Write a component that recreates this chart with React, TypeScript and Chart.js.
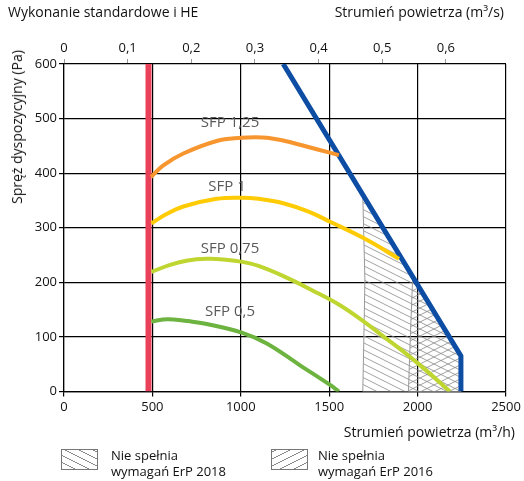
import React, { useEffect, useRef } from "react";
import { Chart, registerables } from "chart.js";
Chart.register(...registerables);

const FONT = "'Open Sans', 'Noto Sans', sans-serif";

// axis ticks
const xTicks = [0, 500, 1000, 1500, 2000, 2500];
const yTicks = [0, 100, 200, 300, 400, 500, 600];
const topTicks = [0, 0.1, 0.2, 0.3, 0.4, 0.5, 0.6];

// red minimum line
const redX = [478, 478];
const redY = [0, 600];
// blue maximum line
const blueX = [1240, 2245, 2245];
const blueY = [600, 65, 0];

// SFP curves
const sfp125X = [492, 560, 675, 864, 1005, 1080, 1147, 1250, 1335, 1440, 1555];
const sfp125Y = [393, 414, 436, 459, 465, 466, 465, 459, 452, 443, 433];
const sfp1X = [494, 580, 675, 864, 1005, 1100, 1240, 1380, 1505, 1712, 1895];
const sfp1Y = [308, 325, 339, 353, 355, 353, 345, 330, 311, 278, 243];
const sfp075X = [494, 600, 700, 807, 900, 1000, 1100, 1250, 1400, 1561, 1700, 1806, 1920, 2040, 2183];
const sfp075Y = [219, 232, 240, 243, 242, 238, 230, 210, 186, 158, 127, 101, 73, 41, 0];
const sfp05X = [494, 560, 620, 700, 800, 1005, 1147, 1335, 1505, 1555];
const sfp05Y = [128, 132, 132, 129, 124, 108, 88, 48, 12, 0];

const sfpLabels = ["SFP 1,25", "SFP 1", "SFP 0,75", "SFP 0,5"];
const sfpLabelX = [939, 922, 939, 939];
const sfpLabelY = [492, 375, 261, 147];

// hatched regions (closed along the blue line)
const erp2018X = [1690, 1702, 1696, 1690, 2245, 2245];
const erp2018Y = [360, 204, 98, 0, 0, 65];
const erp2016X = [1972, 1960, 1948, 2245, 2245];
const erp2016Y = [208, 110, 0, 0, 65];

const pts = (xs: number[], ys: number[]) => xs.map((x, i) => ({ x, y: ys[i] }));

function makePattern(dir: "back" | "fwd") {
  const c = document.createElement("canvas");
  const w = 14, h = 7;
  c.width = w; c.height = h;
  const g = c.getContext("2d")!;
  g.strokeStyle = "#8a8a8a";
  g.lineWidth = 0.8;
  for (const off of [-h, 0, h]) {
    g.beginPath();
    if (dir === "back") {
      g.moveTo(-w, -h + off);
      g.lineTo(2 * w, 2 * h + off);
    } else {
      g.moveTo(-w, 2 * h + off);
      g.lineTo(2 * w, -h + off);
    }
    g.stroke();
  }
  return g.createPattern(c, "repeat")!;
}

const hatchPlugin = {
  id: "hatch",
  beforeDatasetsDraw(chart: any) {
    const { ctx, chartArea, scales } = chart;
    const xs = scales.x, ys = scales.y;
    const poly = (X: number[], Y: number[]) => {
      ctx.beginPath();
      X.forEach((v, i) => {
        const px = xs.getPixelForValue(v), py = ys.getPixelForValue(Y[i]);
        if (i === 0) ctx.moveTo(px, py); else ctx.lineTo(px, py);
      });
      ctx.closePath();
    };
    ctx.save();
    ctx.beginPath();
    ctx.rect(chartArea.left, chartArea.top, chartArea.right - chartArea.left, chartArea.bottom - chartArea.top);
    ctx.clip();
    poly(erp2018X, erp2018Y);
    ctx.fillStyle = makePattern("back");
    ctx.fill();
    ctx.strokeStyle = "#999";
    ctx.lineWidth = 1;
    ctx.stroke();
    poly(erp2016X, erp2016Y);
    ctx.fillStyle = makePattern("fwd");
    ctx.fill();
    ctx.strokeStyle = "#999";
    ctx.stroke();
    ctx.restore();
  },
  afterDatasetsDraw(chart: any) {
    const { ctx, scales } = chart;
    ctx.save();
    ctx.fillStyle = "#58595b";
    ctx.font = `15px ${FONT}`;
    ctx.textAlign = "center";
    ctx.textBaseline = "middle";
    sfpLabels.forEach((t, i) => {
      ctx.fillText(t, scales.x.getPixelForValue(sfpLabelX[i]), scales.y.getPixelForValue(sfpLabelY[i]));
    });
    ctx.restore();
  },
};

export default function App() {
  const ref = useRef<HTMLCanvasElement>(null);
  useEffect(() => {
    const line = (data: any, color: string, width: number, tension = 0.4) => ({
      type: "line" as const,
      data,
      borderColor: color,
      borderWidth: width,
      pointRadius: 0,
      fill: false,
      tension,
      xAxisID: "x",
      yAxisID: "y",
    });
    const chart = new Chart(ref.current!, {
      type: "line",
      data: {
        datasets: [
          line(pts(sfp05X, sfp05Y), "#6cb33f", 4),
          line(pts(sfp075X, sfp075Y), "#bfd630", 4),
          line(pts(sfp1X, sfp1Y), "#ffcb05", 4),
          line(pts(sfp125X, sfp125Y), "#f7962f", 4),
          { ...line(pts(blueX, blueY), "#0e4da4", 5, 0), borderJoinStyle: "miter" },
          line(pts(redX, redY), "#e9415a", 6, 0),
        ] as any,
      },
      options: {
        animation: false,
        responsive: false,
        maintainAspectRatio: false,
        layout: { padding: { left: 0, right: 18, top: 0, bottom: 0 } },
        plugins: { legend: { display: false }, tooltip: { enabled: false } },
        scales: {
          x: {
            type: "linear",
            position: "bottom",
            min: 0,
            max: 2500,
            afterBuildTicks: (s: any) => { s.ticks = xTicks.map((value) => ({ value })); },
            afterFit: (s: any) => { s.height = 89.5; s.paddingLeft = 0; s.paddingRight = 0; },
            ticks: { color: "#111", font: { family: FONT, size: 13 }, padding: 3, maxRotation: 0, callback: (v: any) => String(v) },
            grid: { color: "#000", lineWidth: 1.2, tickLength: 5 },
            border: { color: "#000", width: 1.2 },
          },
          x2: {
            type: "linear",
            position: "top",
            min: 0,
            max: 2500 / 3600,
            afterBuildTicks: (s: any) => { s.ticks = topTicks.map((value) => ({ value })); },
            afterFit: (s: any) => { s.height = 64; s.paddingLeft = 0; s.paddingRight = 0; },
            ticks: {
              color: "#111",
              font: { family: FONT, size: 13 },
              padding: 3,
              maxRotation: 0,
              callback: (v: any) => (v === 0 ? "0" : Number(v).toFixed(1).replace(".", ",")),
            },
            grid: { drawOnChartArea: false, color: "#999", lineWidth: 1, tickLength: 5 },
            border: { display: false },
          },
          y: {
            type: "linear",
            min: 0,
            max: 600,
            afterBuildTicks: (s: any) => { s.ticks = yTicks.map((value) => ({ value })); },
            afterFit: (s: any) => { s.width = 64; },
            ticks: { color: "#111", font: { family: FONT, size: 13 }, padding: 2, callback: (v: any) => String(v) },
            grid: { color: "#000", lineWidth: 1.2, tickLength: 5 },
            border: { color: "#000", width: 1.2 },
          },
        },
      },
      plugins: [hatchPlugin],
    });
    return () => chart.destroy();
  }, []);

  const txt: React.CSSProperties = {
    position: "absolute",
    fontFamily: FONT,
    fontSize: 14,
    lineHeight: "14px",
    color: "#111",
    whiteSpace: "nowrap",
  };
  const legTxt: React.CSSProperties = { ...txt, fontSize: 13, lineHeight: "16px" };
  const box = (dir: string): React.CSSProperties => ({
    position: "absolute",
    width: 35,
    height: 19,
    border: "1px solid #777",
    background: `repeating-linear-gradient(${dir}, transparent 0px, transparent 5.3px, #8a8a8a 5.3px, #8a8a8a 6.3px)`,
  });

  return (
    <div style={{ position: "absolute", left: 0, top: 0, width: 524, height: 481, background: "#fff", overflow: "hidden" }}>
      <canvas ref={ref} width={524} height={481} style={{ position: "absolute", left: 0, top: 0 }} />
      <div style={{ ...txt, left: 8, top: 5 }}>Wykonanie standardowe i HE</div>
      <div style={{ ...txt, right: 20, top: 5 }}>Strumień powietrza (m³/s)</div>
      <div style={{ ...txt, right: 9, top: 425 }}>Strumień powietrza (m³/h)</div>
      <div
        style={{
          ...txt,
          left: 17,
          top: 127,
          transform: "translate(-50%, -50%) rotate(-90deg)",
        }}
      >
        Spręż dyspozycyjny (Pa)
      </div>
      <div style={{ ...box("26.6deg"), left: 61, top: 449 }} />
      <div style={{ ...legTxt, left: 111, top: 447 }}>
        Nie spełnia
        <br />
        wymagań ErP 2018
      </div>
      <div style={{ ...box("-26.6deg"), left: 271, top: 449 }} />
      <div style={{ ...legTxt, left: 318, top: 447 }}>
        Nie spełnia
        <br />
        wymagań ErP 2016
      </div>
    </div>
  );
}
